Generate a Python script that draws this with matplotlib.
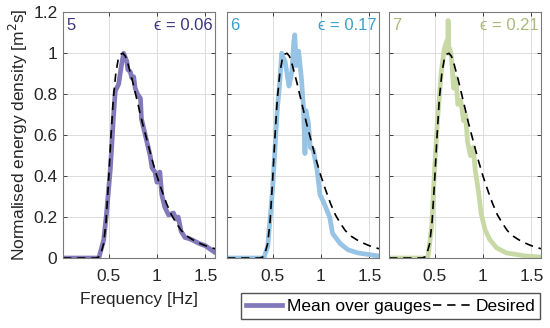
import numpy as np
import matplotlib.pyplot as plt

plt.rcParams['font.family'] = ['Liberation Sans', 'DejaVu Sans']
plt.rcParams['mathtext.fontset'] = 'dejavusans'

# desired spectrum (same in every panel)
f_des = [0.03, 0.30, 0.37, 0.40, 0.42, 0.45, 0.475, 0.50, 0.525, 0.55, 0.575,
         0.60, 0.625, 0.65, 0.675, 0.70, 0.75, 0.80, 0.85, 0.90, 0.95, 1.00,
         1.05, 1.10, 1.15, 1.20, 1.25, 1.30, 1.40, 1.50, 1.60]
s_des = [0.0, 0.0, 0.0, 0.005, 0.02, 0.07, 0.18, 0.37, 0.59, 0.78, 0.90,
         0.97, 0.995, 1.0, 0.985, 0.95, 0.86, 0.76, 0.66, 0.57, 0.48, 0.40,
         0.33, 0.265, 0.21, 0.17, 0.135, 0.11, 0.08, 0.06, 0.045]

# mean over gauges, test 5
f5 = [0.03, 0.30, 0.40, 0.45, 0.48, 0.52, 0.55, 0.57, 0.605, 0.63, 0.656, 0.69,
      0.70, 0.725, 0.74, 0.76, 0.775, 0.80, 0.83, 0.84, 0.86, 0.88, 0.91, 0.93,
      0.95, 0.98, 1.0, 1.03, 1.05, 1.08, 1.12, 1.17, 1.20, 1.22, 1.25, 1.29,
      1.33, 1.37, 1.44, 1.50, 1.59]
s5 = [0.0, 0.0, 0.0, 0.087, 0.22, 0.44, 0.68, 0.815, 0.85, 0.93, 1.0, 0.96,
      0.92, 0.91, 0.88, 0.885, 0.83, 0.80, 0.78, 0.68, 0.64, 0.60, 0.54, 0.50,
      0.44, 0.42, 0.37, 0.42, 0.31, 0.25, 0.21, 0.22, 0.19, 0.20, 0.13, 0.10,
      0.095, 0.087, 0.07, 0.06, 0.03]

# test 6
f6 = [0.03, 0.30, 0.41, 0.45, 0.50, 0.55, 0.57, 0.595, 0.61, 0.63, 0.65, 0.67,
      0.70, 0.72, 0.73, 0.745, 0.77, 0.80, 0.82, 0.835, 0.845, 0.87, 0.89, 0.92,
      0.96, 0.99, 1.03, 1.06, 1.09, 1.12, 1.20, 1.28, 1.38, 1.52, 1.60]
s6 = [0.0, 0.0, 0.0, 0.055, 0.33, 0.73, 0.83, 1.0, 0.98, 0.96, 0.90, 0.84,
      0.91, 1.06, 1.09, 0.94, 1.01, 0.87, 0.73, 0.51, 0.72, 0.66, 0.54, 0.53,
      0.43, 0.31, 0.27, 0.235, 0.20, 0.12, 0.07, 0.04, 0.025, 0.015, 0.01]

# test 7
f7 = [0.03, 0.30, 0.43, 0.47, 0.50, 0.53, 0.57, 0.60, 0.625, 0.635, 0.64, 0.648,
      0.66, 0.675, 0.695, 0.72, 0.74, 0.77, 0.80, 0.82, 0.84, 0.87, 0.90, 0.92,
      0.955, 0.98, 1.02, 1.07, 1.14, 1.24, 1.44, 1.59]
s7 = [0.0, 0.0, 0.0, 0.15, 0.43, 0.67, 0.91, 1.02, 1.06, 1.0, 1.16, 1.02,
      1.02, 0.98, 0.83, 0.88, 0.75, 0.77, 0.67, 0.70, 0.57, 0.50, 0.54, 0.43,
      0.32, 0.22, 0.14, 0.09, 0.05, 0.025, 0.01, 0.005]

tests = ['5', '6', '7']
eps = ['0.06', '0.17', '0.21']
freqs = [f5, f6, f7]
spectra = [s5, s6, s7]
line_cols = ['#8179b9', '#97c3e4', '#c8d9a6']
text_cols = ['#3b3580', '#3b9fd0', '#a9ba78']

fig = plt.figure(figsize=(5.5, 3.28), dpi=100)
lefts = [0.1145, 0.4127, 0.7073]
axes = [fig.add_axes([l, 0.2134, 0.2765, 0.749]) for l in lefts]

handles = []
for i, ax in enumerate(axes):
    ln_m, = ax.plot(freqs[i], spectra[i], color=line_cols[i], lw=3.4,
                    label='Mean over gauges')
    ln_d, = ax.plot(f_des, s_des, color='black', lw=1.2, dashes=(5, 3.5),
                    label='Desired')
    if i == 0:
        handles = [ln_m, ln_d]
    ax.set_xlim(0.03, 1.6)
    ax.set_ylim(0, 1.2)
    ax.set_xticks([0.5, 1, 1.5])
    ax.set_xticklabels(['0.5', '1', '1.5'])
    ax.set_yticks([0, 0.2, 0.4, 0.6, 0.8, 1, 1.2])
    if i == 0:
        ax.set_yticklabels(['0', '0.2', '0.4', '0.6', '0.8', '1', '1.2'])
    else:
        ax.set_yticklabels([])
    ax.grid(True, color='#dcdcdc', lw=0.7)
    ax.set_axisbelow(True)
    ax.tick_params(direction='in', top=True, right=True, length=3,
                   labelsize=12.5, colors='#262626', width=0.6)
    ax.tick_params(axis='x', pad=8)
    ax.tick_params(axis='y', pad=4)
    for sp in ax.spines.values():
        sp.set_color('#7a7a7a')
        sp.set_linewidth(0.8)
    ax.text(0.02, 0.975, tests[i], transform=ax.transAxes, ha='left', va='top',
            fontsize=12, color=text_cols[i])
    ax.text(0.985, 0.975, '\u03f5 = ' + eps[i], transform=ax.transAxes,
            ha='right', va='top', fontsize=12, color=text_cols[i])

axes[0].set_xlabel('Frequency [Hz]', fontsize=12.5, color='#262626',
                   labelpad=6)
axes[0].set_ylabel('Normalised energy density [m$^2$s]', fontsize=12.5,
                   color='#262626', labelpad=2)

fig.legend(handles=handles, labels=['Mean over gauges', 'Desired'],
           loc='lower right', bbox_to_anchor=(0.982, 0.028), ncol=2,
           fontsize=12.5, frameon=True, fancybox=False, edgecolor='#262626',
           handlelength=2.1, handletextpad=0.3, columnspacing=0.1,
           borderpad=0.3, borderaxespad=0)

fig.savefig('out.png', dpi=100)
